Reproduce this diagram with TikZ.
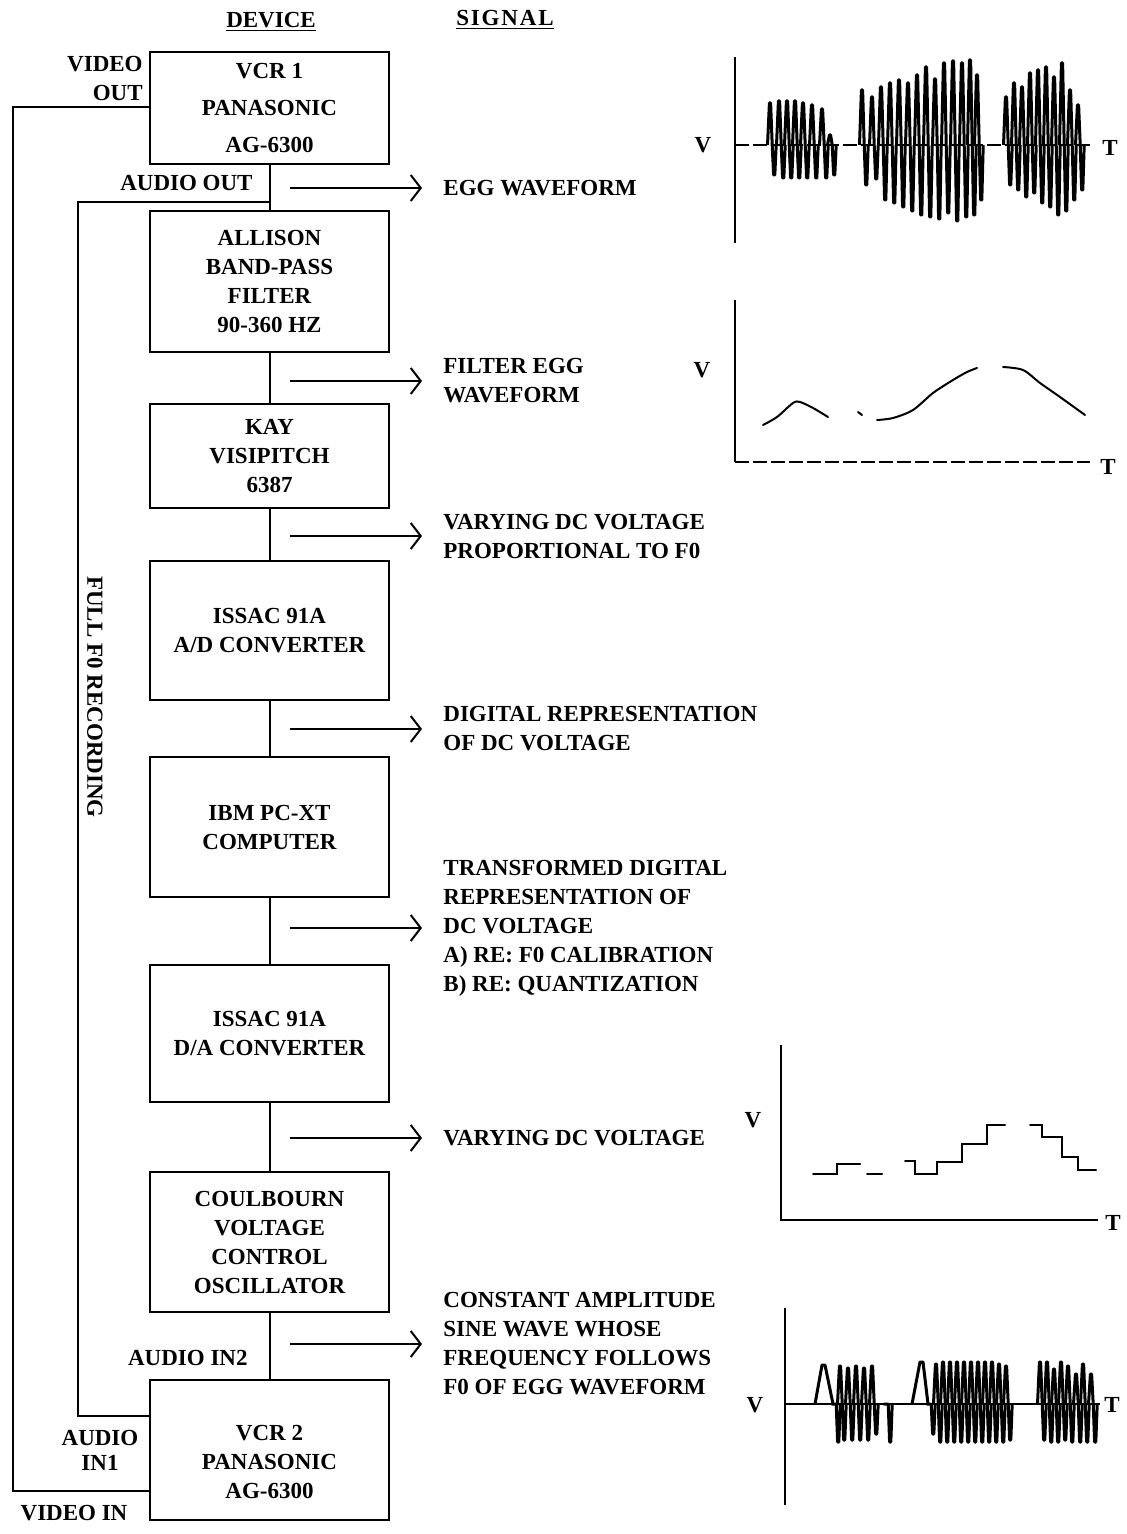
\documentclass[tikz,border=0pt]{standalone}
\usepackage{fontspec}
\setmainfont{Liberation Serif}
\usetikzlibrary{arrows.meta,calc}
\newcommand{\dfont}{\bfseries\fontsize{11.5}{14.5}\selectfont}
\newcommand{\wavespikes}[2]{\foreach \x/\u/\d in {#2} {\draw[wave] (\x-2.5,#1) -- (\x-0.6,#1-\u) -- (\x+0.6,#1-\u) -- (\x+2.2,#1) -- (\x+3.6,#1+\d) -- (\x+4.8,#1+\d) -- (\x+6.2,#1);}}
\begin{document}
\begin{tikzpicture}[x=0.5pt,y=-0.5pt,
  every node/.style={font=\dfont, inner sep=0pt},
  box/.style={draw, line width=1.1pt, minimum width=119.5pt, align=center},
  wire/.style={line width=1pt},
  sig/.style={line width=1pt, -{Straight Barb[length=5pt,width=13pt,line width=1pt]}, shorten >=10.5pt},
  lbl/.style={anchor=west, align=left},
  axis/.style={line width=1pt},
  dax/.style={line width=1pt, dash pattern=on 7pt off 2pt},
  wave/.style={line width=1.5pt, line join=round},
  curve/.style={line width=1pt, line cap=round},
]
\useasboundingbox (0,0) rectangle (1127,1534);

% headings
\node (hdev) at (271,22) {\underline{DEVICE}};
\node (hsig) at (505,20) {\underline{\addfontfeature{LetterSpace=8}SIGNAL}};

% device boxes
\node[box, minimum height=56pt] (vcr1) at (269.5,108) {VCR 1\\[4pt]PANASONIC\\[4pt]AG-6300};
\node[box, minimum height=70.5pt] (bpf) at (269.5,281.5) {ALLISON\\BAND-PASS\\FILTER\\90-360 HZ};
\node[box, minimum height=52pt] (kay) at (269.5,456) {KAY\\VISIPITCH\\6387};
\node[box, minimum height=69.5pt] (adc) at (269.5,630.5) {ISSAC 91A\\A/D CONVERTER};
\node[box, minimum height=70pt] (pc) at (269.5,827) {IBM PC-XT\\COMPUTER};
\node[box, minimum height=68.5pt] (dac) at (269.5,1033.5) {ISSAC 91A\\D/A CONVERTER};
\node[box, minimum height=70pt] (vco) at (269.5,1242) {COULBOURN\\VOLTAGE\\CONTROL\\OSCILLATOR};
\node[box, minimum height=70pt] (vcr2) at (269.5,1450) {\rule{0pt}{20pt}VCR 2\\PANASONIC\\AG-6300};

% chain connectors
\draw[wire] (vcr1) -- (bpf);
\draw[wire] (bpf) -- (kay);
\draw[wire] (kay) -- (adc);
\draw[wire] (adc) -- (pc);
\draw[wire] (pc) -- (dac);
\draw[wire] (dac) -- (vco);
\draw[wire] (vco) -- (vcr2);

% feedback (audio) and video loops
\coordinate (split) at (269.5,202);
\coordinate (fbA) at (78,202);
\coordinate (fbB) at (78,1416);
\draw[wire] (split) -- (fbA) -- (fbB) -- (fbB -| vcr2.west);
\coordinate (vA) at (13,107);
\coordinate (vB) at (13,1491);
\draw[wire] (vA -| vcr1.west) -- (vA) -- (vB) -- (vB -| vcr2.west);

% side labels
\node[align=right, anchor=east] (vout) at (143,79) {VIDEO\\OUT};
\node[anchor=east] (aout) at (253,183) {AUDIO OUT};
\node[anchor=east] (ain2) at (248,1358) {AUDIO IN2};
\node[align=center] (ain1) at (100,1450) {AUDIO\\[-2pt]IN1};
\node (vin) at (74,1513) {VIDEO IN};
\node[rotate=-90] (full) at (95,697) {FULL F0 RECORDING};

% signal labels and arrows
\node[lbl] (s1) at (443,188) {EGG WAVEFORM};
\node[lbl] (s2) at (443,381) {FILTER EGG\\WAVEFORM};
\node[lbl] (s3) at (443,536) {VARYING DC VOLTAGE\\PROPORTIONAL TO F0};
\node[lbl] (s4) at (443,729) {DIGITAL REPRESENTATION\\OF DC VOLTAGE};
\node[lbl] (s5) at (443,928) {TRANSFORMED DIGITAL\\REPRESENTATION OF\\DC VOLTAGE\\A) RE: F0 CALIBRATION\\B) RE: QUANTIZATION};
\node[lbl] (s6) at (443,1138) {VARYING DC VOLTAGE};
\node[lbl] (s7) at (443,1344) {CONSTANT AMPLITUDE\\SINE WAVE WHOSE\\FREQUENCY FOLLOWS\\F0 OF EGG WAVEFORM};
\coordinate (a1) at (290,188);
\coordinate (a2) at (290,381);
\coordinate (a3) at (290,536);
\coordinate (a4) at (290,729);
\coordinate (a5) at (290,928);
\coordinate (a6) at (290,1138);
\coordinate (a7) at (290,1344);
\draw[sig] (a1) -- (s1.west);
\draw[sig] (a2) -- (s2.west);
\draw[sig] (a3) -- (s3.west);
\draw[sig] (a4) -- (s4.west);
\draw[sig] (a5) -- (s5.west);
\draw[sig] (a6) -- (s6.west);
\draw[sig] (a7) -- (s7.west);

% graph 1: EGG waveform
\draw[axis] (735,57) -- (735,243);
\draw[dax] (735,145) -- (1090,145);
\node (g1v) at (703,145) {V};
\node (g1t) at (1110,148) {T};
\wavespikes{145}{770/42/30, 779/44/33, 787/44/33, 795/44/33, 803/42/33, 812/40/33, 822/36/33, 830/10/30}
\wavespikes{145}{862/55/40, 872/48/34, 881/58/55, 890/62/58, 899/65/62, 908/62/66, 917/70/70, 926/78/72, 935/66/74, 944/82/68, 953/84/76, 962/82/72, 970/85/70, 977/70/55}
\wavespikes{145}{1006/48/40, 1014/62/45, 1022/58/52, 1030/72/48, 1038/75/58, 1046/78/62, 1054/68/70, 1062/82/66, 1070/55/55, 1078/40/45}

% graph 2: filtered waveform
\draw[axis] (735,300) -- (735,462);
\draw[dax] (735,462) -- (1090,462);
\node (g2v) at (702,370) {V};
\node (g2t) at (1108,467) {T};
\draw[curve] plot[smooth] coordinates {(763,425) (777,417) (793,403) (800,402) (813,408) (828,417)};
\draw[curve] (858,412) -- (862,415);
\draw[curve] plot[smooth] coordinates {(877,420) (893,418) (913,410) (933,393) (953,380) (967,372) (977,368)};
\draw[curve] plot[smooth] coordinates {(1003,367) (1023,370) (1040,383) (1060,397) (1085,415)};

% graph 3: stepped DC voltage
\draw[axis] (781,1045) -- (781,1220) -- (1098,1220);
\node (g3v) at (753,1120) {V};
\node (g3t) at (1113,1223) {T};
\draw[curve] (813,1174) -- (837,1174) -- (837,1164) -- (860,1164);
\draw[curve] (867,1174) -- (882,1174);
\draw[curve] (905,1161) -- (915,1161) -- (915,1174) -- (937,1174) -- (937,1162) -- (962,1162) -- (962,1144) -- (987,1144) -- (987,1125) -- (1005,1125);
\draw[curve] (1030,1125) -- (1042,1125) -- (1042,1137) -- (1062,1137) -- (1062,1157) -- (1078,1157) -- (1078,1170) -- (1096,1170);

% graph 4: VCO output
\draw[axis] (785,1308) -- (785,1505);
\draw[axis] (785,1404) -- (1100,1404);
\node (g4v) at (755,1405) {V};
\node (g4t) at (1112,1405) {T};
\draw[wave] (815,1404) -- (822,1365) -- (825,1365) -- (833,1404);
\wavespikes{1404}{834/0/38, 840/38/36, 848/36/36, 856/38/36, 864/36/36, 872/38/30, 886/0/38}
\draw[wave] (912,1404) -- (920,1362) -- (923,1362) -- (928,1404);
\wavespikes{1404}{929/0/30, 936/40/38, 943/42/38, 950/42/38, 957/42/38, 964/42/38, 971/42/38, 978/42/38, 985/42/38, 992/42/38, 999/40/38, 1006/38/36}
\wavespikes{1404}{1040/42/36, 1047/42/38, 1054/35/38, 1061/42/36, 1068/38/38, 1076/30/38, 1083/40/38, 1091/30/38}
\end{tikzpicture}
\end{document}
